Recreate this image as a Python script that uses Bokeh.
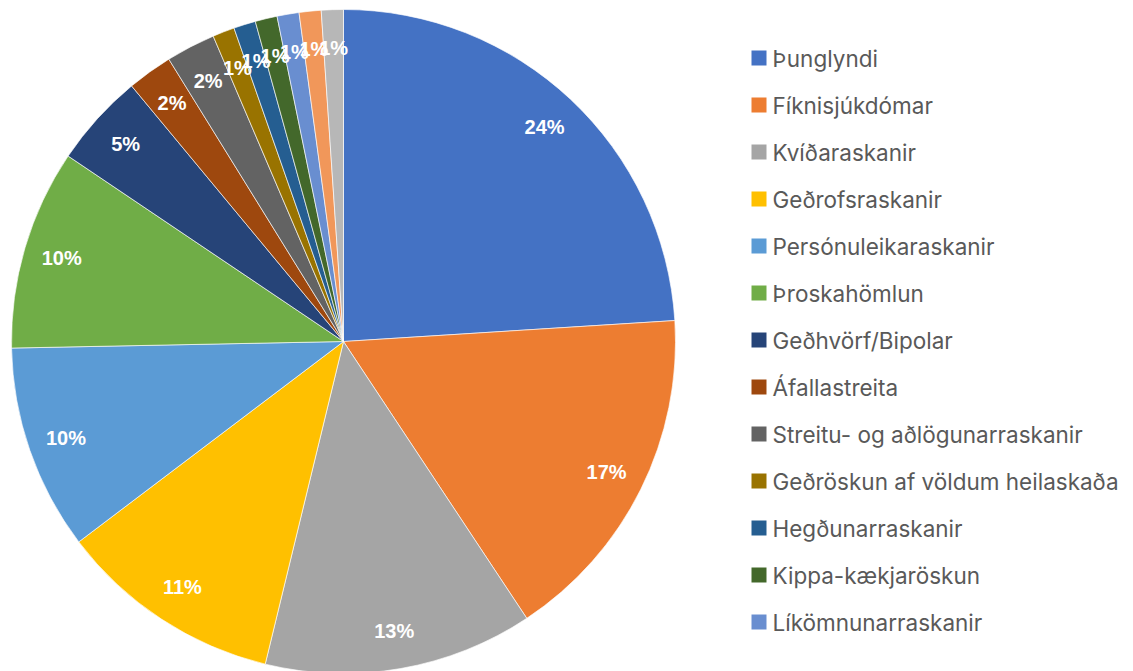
import math
from bokeh.plotting import figure
from bokeh.models import Range1d, ColumnDataSource
from bokeh.core.properties import value
from bokeh.embed import file_html
from bokeh.resources import INLINE

# ---- data ----
categories = [
    "Þunglyndi", "Fíknisjúkdómar", "Kvíðaraskanir", "Geðrofsraskanir",
    "Persónuleikaraskanir", "Þroskahömlun", "Geðhvörf/Bipolar", "Áfallastreita",
    "Streitu- og aðlögunarraskanir", "Geðröskun af völdum heilaskaða",
    "Hegðunarraskanir", "Kippa-kækjaröskun", "Líkömnunarraskanir",
    "Annað 1", "Annað 2",  # last two slices: legend cut off in the reference
]
shares = [24.0, 16.7, 13.1, 10.9, 10.0, 9.75, 4.55, 2.2, 2.4,
          1.07, 1.07, 1.07, 1.07, 1.07, 1.07]
colors = ["#4472C4", "#ED7D31", "#A5A5A5", "#FFC000", "#5B9BD5", "#70AD47",
          "#264478", "#9E480E", "#636363", "#997300", "#255E91", "#43682B",
          "#698ED0", "#F1975A", "#B7B7B7"]
legend_count = 13  # entries visible in the legend

W, H = 1133, 671
CX, CY, R = 343, 330, 332

total = sum(shares)
starts, ends, lx, ly, labels = [], [], [], [], []
cum = 0.0
for v in shares:
    f0 = cum / total
    cum += v
    f1 = cum / total
    a0 = math.pi / 2 - f0 * 2 * math.pi
    a1 = math.pi / 2 - f1 * 2 * math.pi
    starts.append(a0)
    ends.append(a1)
    am = (a0 + a1) / 2
    lx.append(CX + 0.885 * R * math.cos(am))
    ly.append(CY + 0.885 * R * math.sin(am))
    labels.append(f"{round(v / total * 100)}%")

src = ColumnDataSource(dict(cat=categories, start=starts, end=ends,
                            color=colors, lx=lx, ly=ly, label=labels))

p = figure(width=W, height=H, output_backend="svg", toolbar_location=None,
           x_range=Range1d(0, W), y_range=Range1d(0, H), min_border=0)
p.axis.visible = False
p.grid.visible = False
p.outline_line_color = None
p.background_fill_color = "white"
p.border_fill_color = "white"

p.wedge(x=CX, y=CY, radius=R, start_angle="start", end_angle="end",
        direction="clock", fill_color="color", line_color="white",
        line_width=0.8, line_alpha=0.8, source=src)

p.text(x="lx", y="ly", text="label", source=src, text_color="white",
       text_font=value("Liberation Sans"), text_font_style="bold",
       text_font_size="20px", text_align="center", text_baseline="middle")

# legend
leg = ColumnDataSource(dict(
    x=[758.5] * legend_count,
    tx=[772] * legend_count,
    y=[H - (57.5 + 47 * i) for i in range(legend_count)],
    color=colors[:legend_count],
    cat=categories[:legend_count],
))
p.rect(x="x", y="y", width=15, height=15, fill_color="color",
       line_color=None, source=leg)
p.text(x="tx", y="y", text="cat", source=leg, text_color="#595959",
       text_font=value("Inter"), text_font_size="22.5px",
       text_align="left", text_baseline="middle")

open("out.html", "w").write(file_html(p, INLINE))
